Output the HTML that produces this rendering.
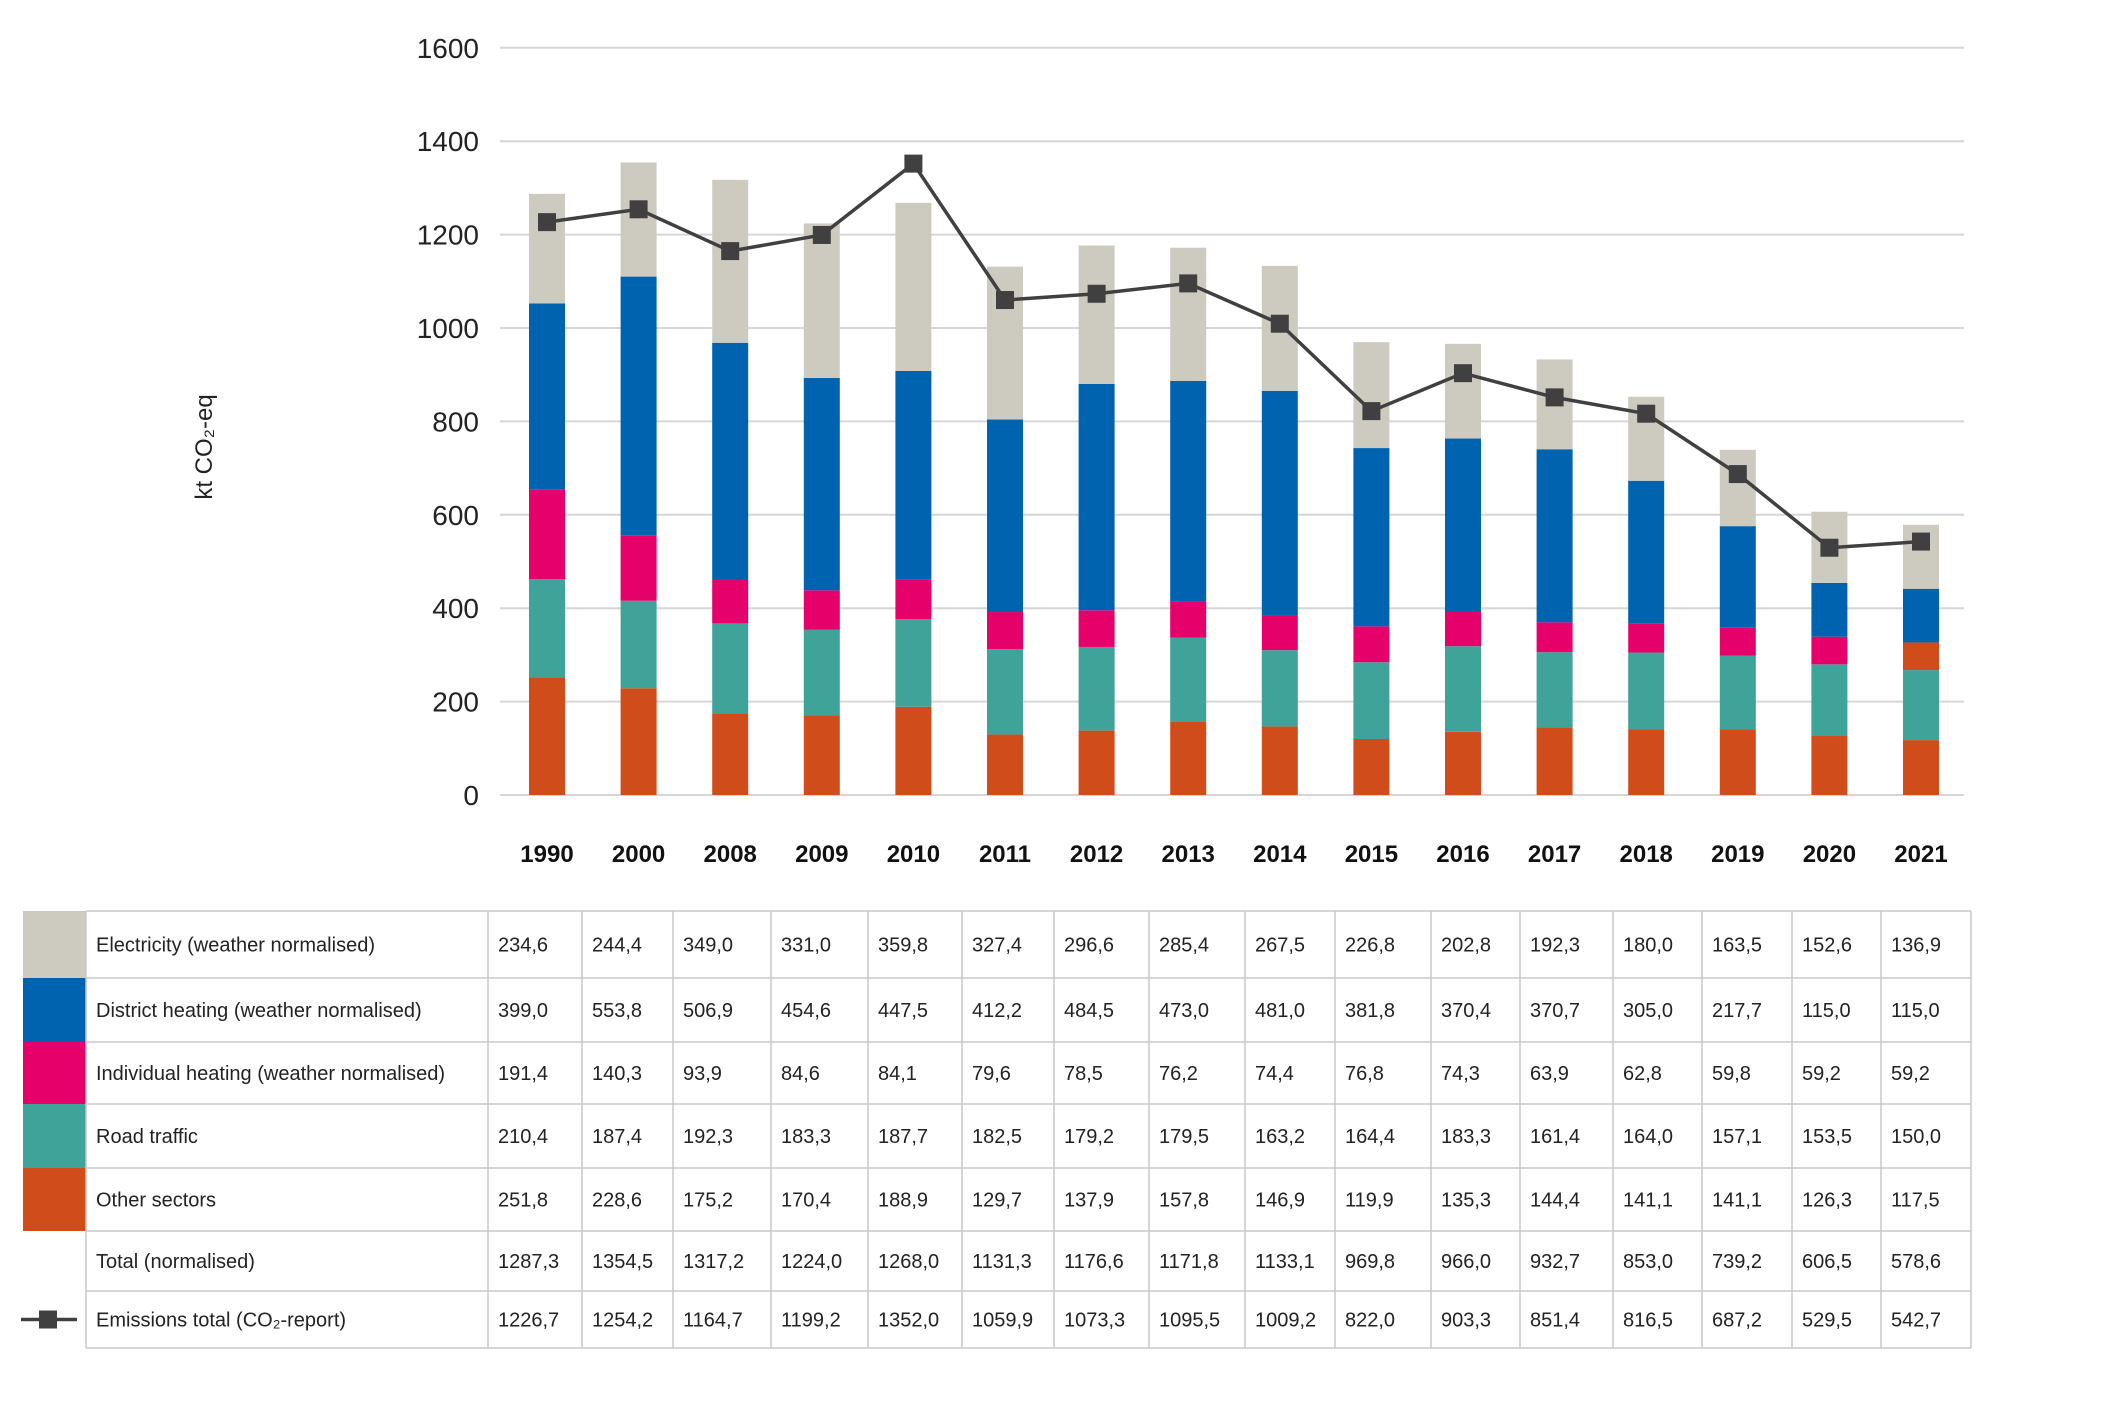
<!DOCTYPE html>
<html><head><meta charset="utf-8"><style>
html,body{margin:0;padding:0;background:#fff;}
svg{display:block;font-family:"Liberation Sans",Arial,sans-serif;}
</style></head><body>
<svg id="chart" width="2123" height="1416" viewBox="0 0 2123 1416" xmlns="http://www.w3.org/2000/svg"></svg>
<script>
const years=["1990","2000","2008","2009","2010","2011","2012","2013","2014","2015","2016","2017","2018","2019","2020","2021"];
const electricity=[234.6,244.4,349.0,331.0,359.8,327.4,296.6,285.4,267.5,226.8,202.8,192.3,180.0,163.5,152.6,136.9];
const district=[399.0,553.8,506.9,454.6,447.5,412.2,484.5,473.0,481.0,381.8,370.4,370.7,305.0,217.7,115.0,115.0];
const individual=[191.4,140.3,93.9,84.6,84.1,79.6,78.5,76.2,74.4,76.8,74.3,63.9,62.8,59.8,59.2,59.2];
const road=[210.4,187.4,192.3,183.3,187.7,182.5,179.2,179.5,163.2,164.4,183.3,161.4,164.0,157.1,153.5,150.0];
const other=[251.8,228.6,175.2,170.4,188.9,129.7,137.9,157.8,146.9,119.9,135.3,144.4,141.1,141.1,126.3,117.5];
const totalNorm=[1287.3,1354.5,1317.2,1224.0,1268.0,1131.3,1176.6,1171.8,1133.1,969.8,966.0,932.7,853.0,739.2,606.5,578.6];
const emissions=[1226.7,1254.2,1164.7,1199.2,1352.0,1059.9,1073.3,1095.5,1009.2,822.0,903.3,851.4,816.5,687.2,529.5,542.7];
const yTicks=[0,200,400,600,800,1000,1200,1400,1600];

const NS="http://www.w3.org/2000/svg";
const svg=document.getElementById('chart');
function mk(tag,attrs,parent){const e=document.createElementNS(NS,tag);for(const k in attrs)e.setAttribute(k,attrs[k]);(parent||svg).appendChild(e);return e;}
const y0=795, yPer=93.4/200;
function yScale(v){return y0-v*yPer;}
function xScale(i){return 547+i*91.6;}
const bw=36;
const C={el:"#cdcbc0",dh:"#0063b0",ih:"#e5006a",rt:"#3fa39a",ot:"#d04c1a",ln:"#404040"};

yTicks.forEach(t=>{
  const l=mk('line',{x1:500,x2:1964,y1:yScale(t),y2:yScale(t),stroke:"#d6d6d6","stroke-width":2});
  
  
  const tx=mk('text',{x:479,y:yScale(t)+10,"text-anchor":"end","font-size":28,fill:"#222"});
  tx.textContent=t;
  
  
});
const yt=mk('text',{transform:"translate(212,447) rotate(-90)","text-anchor":"middle","font-size":24,fill:"#222"});
yt.textContent="kt CO₂-eq";



const seriesList=[[other,C.ot,'other-sectors'],[road,C.rt,'road-traffic'],[individual,C.ih,'individual-heating'],[district,C.dh,'district-heating'],[electricity,C.el,'electricity']];
years.forEach((yr,i)=>{
  let base=0;
  seriesList.forEach(([arr,col,nm])=>{
    let c=col;
    if(nm==='individual-heating'&&yr==='2021')c=C.ot;
    const top=base+arr[i];
    const r=mk('rect',{x:xScale(i)-bw/2,y:yScale(top),width:bw,height:yScale(base)-yScale(top),fill:c});
    
    
    base=top;
  });
  const xl=mk('text',{x:xScale(i),y:862,"text-anchor":"middle","font-size":24,"font-weight":"bold",fill:"#111"});
  xl.textContent=yr;
  
  
});
const pts=emissions.map((v,i)=>xScale(i)+","+yScale(v)).join(" ");
const pl=mk('polyline',{points:pts,fill:"none",stroke:C.ln,"stroke-width":3.5});


emissions.forEach((v,i)=>{
  const m=mk('rect',{x:xScale(i)-9,y:yScale(v)-9,width:18,height:18,fill:C.ln});
  
  
});

const rowY=[911,978,1042,1104,1168,1231,1291,1348];
const colX=[86,488,582,673,771,868,962,1054,1149,1245,1335,1431,1520,1613,1702,1792,1881,1971];
const rows=[["Electricity (weather normalised)",electricity,C.el],["District heating (weather normalised)",district,C.dh],["Individual heating (weather normalised)",individual,C.ih],["Road traffic",road,C.rt],["Other sectors",other,C.ot],["Total (normalised)",totalNorm,null],["Emissions total  (CO₂-report)",emissions,"line"]];
const fmt=v=>v.toFixed(1).replace('.',',');
rows.forEach((r,ri)=>{
  const ya=rowY[ri], yb=rowY[ri+1], ym=(ya+yb)/2+7;
  if(r[2]&&r[2]!=="line"){
    const s=mk('rect',{x:23,y:ya,width:63,height:yb-ya,fill:r[2]});
    
    
  } else if(r[2]==="line"){
    const l=mk('line',{x1:21,x2:77,y1:ym-7,y2:ym-7,stroke:C.ln,"stroke-width":3.5});
    
    
    const m=mk('rect',{x:39,y:ym-16,width:18,height:18,fill:C.ln});
    
    
  }
  const lt=mk('text',{x:96,y:ym,"font-size":20,fill:"#222"});
  lt.textContent=r[0];
  
  
  r[1].forEach((v,ci)=>{
    const t=mk('text',{x:colX[ci+1]+10,y:ym,"font-size":20,fill:"#222"});
    t.textContent=fmt(v);
    
    
  });
});
rowY.forEach(y=>{
  const l=mk('line',{x1:86,x2:1971,y1:y,y2:y,stroke:"#c8c8c8","stroke-width":1.5});
  
  
});
colX.forEach(x=>{
  const l=mk('line',{x1:x,x2:x,y1:rowY[0],y2:rowY[rowY.length-1],stroke:"#c8c8c8","stroke-width":1.5});
  
  
});
</script>
</body></html>
